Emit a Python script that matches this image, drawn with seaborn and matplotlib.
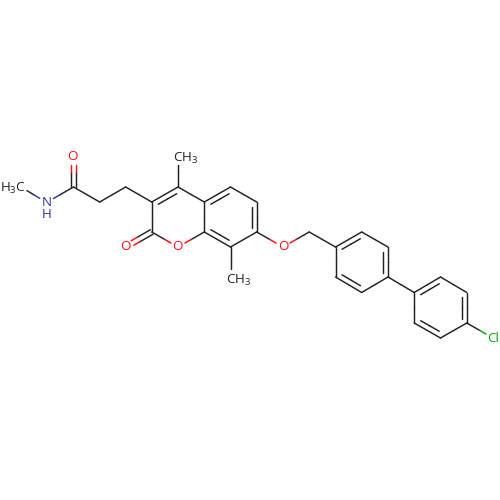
import numpy as np
import pandas as pd
import seaborn as sns
import matplotlib
matplotlib.use("Agg")
import matplotlib.pyplot as plt

# ---------- atoms (pixels) ----------
atom_names = ["Me1", "N", "Cam", "Oam", "Ca", "Cb", "C3", "C4", "Me4", "C4a", "C5", "C6", "C7", "C8", "Me8",
              "C8a", "O1", "C2", "O2", "O7", "CH2", "P1", "P2", "P3", "P4", "P5", "P6",
              "Q1", "Q2", "Q3", "Q4", "Q5", "Q6", "Cl"]
atom_x = [21, 46.5, 73.5, 73.5, 99.7, 125.7, 151.7, 178, 178, 204.3, 230.5, 256.7, 256.7, 230.5, 230.5,
          204.3, 178, 151.7, 125.5, 283, 309.2, 335.5, 361.7, 388, 388, 361.7, 335.5,
          414.2, 440.5, 466.8, 466.8, 440.5, 414.2, 493]
atom_y = [187, 202.5, 187, 156.5, 202, 187, 202, 187, 157, 202, 187, 202, 232, 247, 277,
          232, 247, 232, 247, 247, 232, 247, 232, 247, 277, 292.5, 277,
          292.5, 277, 292.5, 323, 338, 323, 338]

# atoms that carry a label, with the trim (px) applied to their bonds
atom_trim = {"Me1": 7, "N": 8, "Oam": 8, "Me4": 8, "Me8": 8, "O1": 8, "O2": 8, "O7": 8, "Cl": 8}
atom_color = {"N": "#33339f", "Oam": "#ff0d0d", "O1": "#ff0d0d", "O2": "#ff0d0d", "O7": "#ff0d0d", "Cl": "#0ba30b"}
BLACK = "#222222"

single_bonds = [("Me1", "N"), ("N", "Cam"), ("Cam", "Ca"), ("Ca", "Cb"), ("Cb", "C3"), ("C4", "Me4"),
                ("C3", "C2"), ("C4", "C4a"), ("C5", "C6"), ("C7", "C8"), ("C8", "Me8"), ("C8a", "O1"),
                ("O1", "C2"), ("C4a", "C8a"), ("C7", "O7"), ("O7", "CH2"), ("CH2", "P1"),
                ("P2", "P3"), ("P4", "P5"), ("P6", "P1"), ("P4", "Q1"),
                ("Q2", "Q3"), ("Q4", "Q5"), ("Q6", "Q1"), ("Q4", "Cl")]
# ring double bonds: the inner line sits toward the ring centre
ring_bonds = [("C3", "C4", "C4a", "C2"), ("C4a", "C5", "C7", "C8a"), ("C6", "C7", "C8a", "C5"),
              ("C8", "C8a", "C4a", "C7"),
              ("P1", "P2", "P4", "P6"), ("P3", "P4", "P6", "P2"), ("P5", "P6", "P2", "P4"),
              ("Q1", "Q2", "Q4", "Q6"), ("Q3", "Q4", "Q6", "Q2"), ("Q5", "Q6", "Q2", "Q4")]
carbonyl_bonds = [("Cam", "Oam"), ("C2", "O2")]

pos = {n: np.array([x, y]) for n, x, y in zip(atom_names, atom_x, atom_y)}
segments = []


def add_bond(a, b, shift=np.zeros(2), shrink=0.0):
    pa, pb = pos[a], pos[b]
    d = (pb - pa) / np.linalg.norm(pb - pa)
    start = pa + d * (atom_trim.get(a, 0) + shrink) + shift
    end = pb - d * (atom_trim.get(b, 0) + shrink) + shift
    mid = (pa + pb) / 2 + shift
    for p, q, atom in ((start, mid, a), (mid, end, b)):
        sid = len(segments)
        segments.append({"seg": sid, "x": p[0], "y": p[1], "color": atom_color.get(atom, BLACK)})
        segments.append({"seg": sid, "x": q[0], "y": q[1], "color": atom_color.get(atom, BLACK)})


for a, b in single_bonds:
    add_bond(a, b)
for a, b, c1, c2 in ring_bonds:
    add_bond(a, b)
    centre = (pos[a] + pos[b] + pos[c1] + pos[c2]) / 4
    d = pos[b] - pos[a]
    n = np.array([-d[1], d[0]]) / np.linalg.norm(d)
    if np.dot(n, centre - pos[a]) < 0:
        n = -n
    add_bond(a, b, shift=n * 5.2, shrink=4.5)
for a, b in carbonyl_bonds:
    d = pos[b] - pos[a]
    n = np.array([-d[1], d[0]]) / np.linalg.norm(d)
    add_bond(a, b, shift=n * 2.6)
    add_bond(a, b, shift=-n * 2.6)

df = pd.DataFrame(segments)

sns.set_theme(style="white")
plt.rcParams["font.family"] = ["Open Sans"]
plt.rcParams["mathtext.default"] = "regular"

fig = plt.figure(figsize=(5, 5), dpi=100)
ax = fig.add_axes([0, 0, 1, 1])
sns.lineplot(data=df, x="x", y="y", hue="color", units="seg", estimator=None, sort=False,
             palette={c: c for c in df["color"].unique()}, linewidth=1.05, legend=False, ax=ax)

# ---------- atom labels ----------
labels = [("H$_3$C", 13, 188.5, BLACK), ("N", 46.5, 202.5, "#33339f"), ("H", 46.5, 214.5, "#33339f"),
          ("O", 72.5, 156.5, "#ff0d0d"), ("O", 125, 247, "#ff0d0d"), ("O", 177.5, 247, "#ff0d0d"),
          ("O", 283, 247, "#ff0d0d"), ("CH$_3$", 186, 158, BLACK), ("CH$_3$", 238.5, 280, BLACK),
          ("Cl", 493, 338, "#0ba30b")]
for text, x, y, color in labels:
    ax.text(x, y, text, color=color, fontsize=9.6, ha="center", va="center")

ax.set_xlim(0, 500)
ax.set_ylim(500, 0)
ax.axis("off")
fig.savefig("out.png", dpi=100, facecolor="white")
